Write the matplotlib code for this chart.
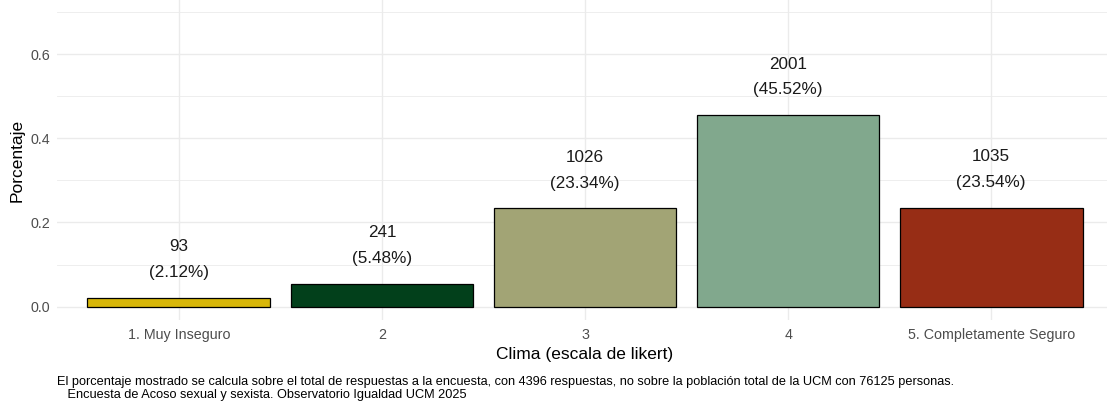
import matplotlib
matplotlib.use("Agg")
import matplotlib.pyplot as plt
from matplotlib.ticker import MultipleLocator

plt.rcParams['font.family'] = ['Liberation Sans', 'DejaVu Sans']

categories = ["1. Muy Inseguro", "2", "3", "4", "5. Completamente Seguro"]
counts = [93, 241, 1026, 2001, 1035]
percents = [2.12, 5.48, 23.34, 45.52, 23.54]
colors = ["#D8B70A", "#02401B", "#A2A475", "#81A88D", "#972D15"]
yticks = [0.0, 0.2, 0.4, 0.6]
ytick_labels = ["0.0", "0.2", "0.4", "0.6"]

W, H = 1107, 403
fig = plt.figure(figsize=(W / 100, H / 100), dpi=100)
fig.patch.set_facecolor("white")

left_px, right_px, top_px, bottom_px = 57, 1113, 0, 320
ax = fig.add_axes([left_px / W, 1 - bottom_px / H,
                   (right_px - left_px) / W, (bottom_px - top_px) / H])

x = list(range(1, len(categories) + 1))
props = [p / 100 for p in percents]
ax.bar(x, props, width=0.9, color=colors, edgecolor="black", linewidth=0.9, zorder=3)

for xi, p, c, pc in zip(x, props, counts, percents):
    ax.text(xi, p + 0.121, f"{c}", ha="center", va="center", fontsize=12.3, color="#1a1a1a", zorder=4)
    ax.text(xi, p + 0.060, f"({pc:.2f}%)", ha="center", va="center", fontsize=12.3, color="#1a1a1a", zorder=4)

ax.set_xlim(0.4, 5.6)
ax.set_ylim(-0.0316, 0.7285)
ax.set_xticks(x)
ax.set_xticklabels(categories)
ax.set_yticks(yticks)
ax.set_yticklabels(ytick_labels)
ax.yaxis.set_minor_locator(MultipleLocator(0.1))

ax.grid(True, which="major", axis="both", color="#EBEBEB", linewidth=1.0, zorder=0)
ax.grid(True, which="minor", axis="y", color="#EBEBEB", linewidth=0.6, zorder=0)
for s in ax.spines.values():
    s.set_visible(False)
ax.tick_params(axis="both", which="both", length=0, labelsize=10.3, labelcolor="#4D4D4D")
ax.tick_params(axis="x", pad=6)
ax.tick_params(axis="y", pad=5)

ax.set_xlabel("Clima (escala de likert)", fontsize=12.5, color="black", labelpad=3)
ax.set_ylabel("Porcentaje", fontsize=12.5, color="black", labelpad=4)

caption = ("El porcentaje mostrado se calcula sobre el total de respuestas a la encuesta, con 4396 respuestas, "
           "no sobre la población total de la UCM con 76125 personas.\n"
           "   Encuesta de Acoso sexual y sexista. Observatorio Igualdad UCM 2025")
fig.text(57 / W, 1 - 376 / H, caption, ha="left", va="top", fontsize=9.15, color="black", linespacing=1.08)

fig.savefig("out.png", dpi=100, facecolor="white")
